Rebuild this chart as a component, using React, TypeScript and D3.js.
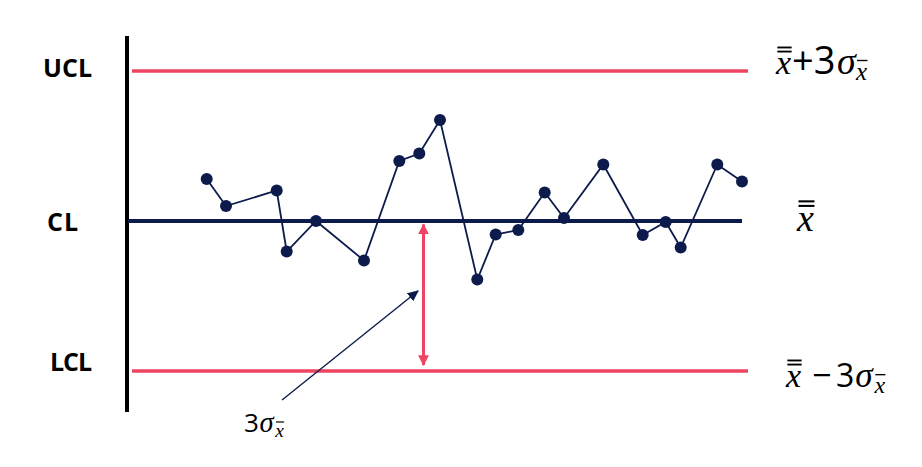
import React from "react";
import * as d3 from "d3";

// sample positions along the time axis and their values (in sigma units, CL = 0)
const sampleX = [7.87, 9.8, 14.87, 15.87, 18.8, 23.6, 27.13, 29.13, 31.2, 34.93, 36.77, 39.03, 41.67, 43.6, 47.53, 51.47, 53.77, 55.27, 58.93, 61.4];
const sampleVal = [0.84, 0.3, 0.61, -0.61, 0.0, -0.79, 1.2, 1.35, 2.02, -1.17, -0.27, -0.18, 0.57, 0.06, 1.13, -0.28, -0.02, -0.53, 1.13, 0.79];

const limitNames = ["UCL", "CL", "LCL"];
const limitVals = [3, 0, -3];

const width = 922;
const height = 467;
const navy = "#0c1b4b";
const red = "#ee4462";
const serif = "'Liberation Serif', 'DejaVu Serif', serif";
const sans = "'Open Sans', 'Noto Sans', sans-serif";

// x with one or two bars over it
function XBar(props: { x: number; y: number; size: number; double?: boolean }) {
  const { x, y, size, double } = props;
  const x1 = x + size * 0.04;
  const x2 = x + size * 0.46;
  const top = y - size * 0.78;
  return (
    <g>
      <text x={x} y={y} fontFamily={serif} fontStyle="italic" fontSize={size} fill="#000">x</text>
      <line x1={x1} x2={x2} y1={top} y2={top} stroke="#000" strokeWidth={Math.max(1.2, size * 0.055)} />
      {double && <line x1={x1} x2={x2} y1={top + size * 0.12} y2={top + size * 0.12} stroke="#000" strokeWidth={size * 0.055} />}
    </g>
  );
}

// 3σ with x-bar subscript
function Sigma3(props: { x: number; y: number; size: number }) {
  const { x, y, size } = props;
  return (
    <g>
      <text x={x} y={y} fontFamily={sans} fontSize={size} fill="#000">3</text>
      <text x={x + size * 0.6} y={y} fontFamily={serif} fontStyle="italic" fontSize={size * 1.1} fill="#000">σ</text>
      <XBar x={x + size * 1.2} y={y + size * 0.2} size={size * 0.75} />
    </g>
  );
}

export default function App() {
  const x = d3.scaleLinear().domain([0, 62]).range([128, 748]);
  const y = d3.scaleLinear().domain([-3, 3]).range([371, 71]);

  const pts = sampleX.map((v, i) => [x(v), y(sampleVal[i])] as [number, number]);
  const line = d3.line()(pts) || "";

  const arrowX = x(29.55);

  return (
    <svg width={width} height={height} style={{ position: "absolute", left: 0, top: 0, background: "#fff" }}>
      <defs>
        <marker id="redHead" viewBox="0 0 10 10" refX="9" refY="5" markerWidth="3.6" markerHeight="3.6" orient="auto-start-reverse">
          <path d="M0,0 L10,5 L0,10 z" fill={red} />
        </marker>
        <marker id="navyHead" viewBox="0 0 10 10" refX="9" refY="5" markerWidth="8" markerHeight="8" orient="auto">
          <path d="M0,0.5 L10,5 L0,9.5 z" fill={navy} />
        </marker>
      </defs>

      {/* vertical axis */}
      <line x1={127} x2={127} y1={y(3.7)} y2={y(-3.82)} stroke="#000" strokeWidth={4} />

      {/* control limits */}
      {limitVals.map((v, i) => (
        <line
          key={limitNames[i]}
          x1={v === 0 ? x(0) : x(0.4)}
          x2={v === 0 ? x(sampleX[sampleX.length - 1]) : x(62)}
          y1={y(v)}
          y2={y(v)}
          stroke={v === 0 ? navy : red}
          strokeWidth={v === 0 ? 4 : 3.5}
        />
      ))}

      {/* left labels */}
      <text x={43} y={y(3) + 6} fontFamily={sans} fontWeight="bold" fontSize={25} fill="#000" textLength={49}>UCL</text>
      <text x={47} y={y(0) + 10} fontFamily={sans} fontWeight="bold" fontSize={25} fill="#000" textLength={31}>CL</text>
      <text x={50} y={y(-3)} fontFamily={sans} fontWeight="bold" fontSize={25} fill="#000" textLength={42}>LCL</text>

      {/* samples */}
      <path d={line} fill="none" stroke={navy} strokeWidth={1.8} />
      {pts.map((p, i) => (
        <circle key={i} cx={p[0]} cy={p[1]} r={6} fill={navy} />
      ))}

      {/* 3 sigma distance */}
      <line x1={arrowX} x2={arrowX} y1={y(-0.07)} y2={y(-2.88)} stroke={red} strokeWidth={3} markerStart="url(#redHead)" markerEnd="url(#redHead)" />
      <line x1={282} y1={400} x2={418} y2={291} stroke={navy} strokeWidth={1.4} markerEnd="url(#navyHead)" />

      {/* right labels */}
      <g>
        <XBar x={776} y={74} size={34} double />
        <text x={792} y={74} fontFamily={sans} fontSize={38} fill="#000">+3</text>
        <text x={837} y={74} fontFamily={serif} fontStyle="italic" fontSize={38} fill="#000">σ</text>
        <XBar x={856} y={80} size={25} />
      </g>
      <XBar x={797} y={231} size={38} double />
      <g>
        <XBar x={786} y={387} size={34} double />
        <text x={812} y={387} fontFamily={sans} fontSize={34} fill="#000">−</text>
        <Sigma3 x={836} y={387} size={32} />
      </g>
      <Sigma3 x={244} y={432} size={26} />
    </svg>
  );
}
